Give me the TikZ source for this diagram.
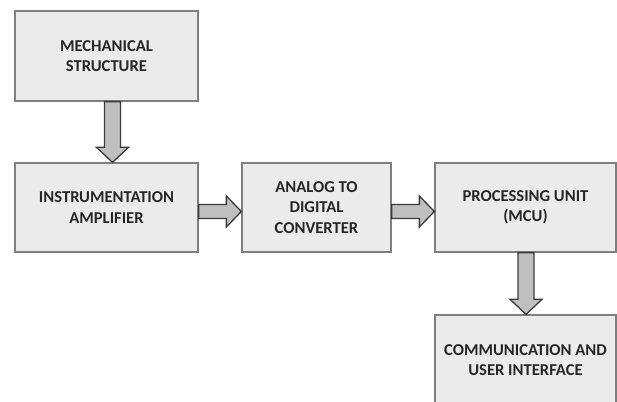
\documentclass[tikz,border=0pt]{standalone}
\usepackage{fontspec}
\setmainfont{Carlito}
\usetikzlibrary{calc}
\definecolor{boxfill}{HTML}{EBEBEB}
\definecolor{boxline}{HTML}{7F7F7F}
\definecolor{arrfill}{HTML}{BFBFBF}
\definecolor{arrline}{HTML}{3A3A3A}
\definecolor{txt}{HTML}{262626}
\tikzset{
  block/.style={draw=boxline, line width=1.3pt, fill=boxfill, minimum width=#1, minimum height=90pt,
    align=center, font=\fontsize{16.6pt}{20.5pt}\selectfont\bfseries, text=txt, inner sep=0pt},
  fatarrow/.style={draw=arrline, line width=1.3pt, fill=arrfill, line join=miter}
}
\newcommand\fatdown[3]{%
  \draw[fatarrow] let \p1=(#1.south), \p2=(#2.north) in
    (\x1+#3-8pt,\y1) -- (\x1+#3-8pt,\y2+15pt) -- (\x1+#3-16pt,\y2+15pt) -- (\x1+#3,\y2)
    -- (\x1+#3+16pt,\y2+15pt) -- (\x1+#3+8pt,\y2+15pt) -- (\x1+#3+8pt,\y1) -- cycle;}
\newcommand\fatright[3]{%
  \draw[fatarrow] let \p1=(#1.east), \p2=(#2.west) in
    (\x1,\y1+#3+7pt) -- (\x2-15pt,\y1+#3+7pt) -- (\x2-15pt,\y1+#3+15.5pt) -- (\x2,\y1+#3)
    -- (\x2-15pt,\y1+#3-15.5pt) -- (\x2-15pt,\y1+#3-7pt) -- (\x1,\y1+#3-7pt) -- cycle;}
\begin{document}
\begin{tikzpicture}[x=1pt,y=1pt]
\useasboundingbox (0,0) rectangle (617,401);
\clip (0,0) rectangle (617,401);
\node[block=183pt, minimum height=90pt] (mech) at (106.5,345) {MECHANICAL\\STRUCTURE};
\node[block=183pt, minimum height=89pt] (inst) at (106.5,193.5) {INSTRUMENTATION\\AMPLIFIER};
\node[block=149pt, minimum height=89pt] (adc) at (316.5,193.5) {ANALOG TO\\DIGITAL\\CONVERTER};
\node[block=181pt, minimum height=89pt] (mcu) at (525.5,193.5) {PROCESSING UNIT\\(MCU)};
\node[block=181pt, minimum height=90pt] (comm) at (525.5,41) {COMMUNICATION AND\\USER INTERFACE};
\fatdown{mech}{inst}{6pt}
\fatright{inst}{adc}{-4pt}
\fatright{adc}{mcu}{-4pt}
\fatdown{mcu}{comm}{0.5pt}
\end{tikzpicture}
\end{document}
